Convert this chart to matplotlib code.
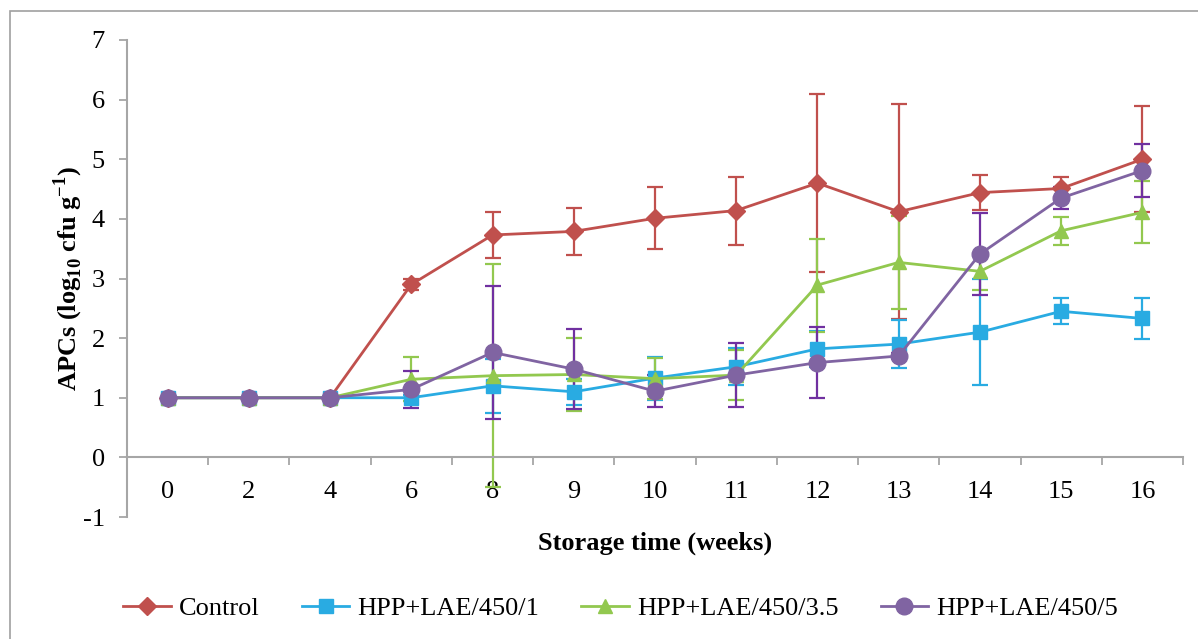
import matplotlib
matplotlib.use("Agg")
import matplotlib.pyplot as plt
from matplotlib.patches import Rectangle
import numpy as np

weeks = ["0", "2", "4", "6", "8", "9", "10", "11", "12", "13", "14", "15", "16"]

control = [1, 1, 1, 2.90, 3.73, 3.79, 4.01, 4.14, 4.60, 4.12, 4.44, 4.51, 5.00]
control_err = [0, 0, 0, 0.10, 0.38, 0.39, 0.52, 0.57, 1.49, 1.80, 0.29, 0.19, 0.89]

lae1 = [1, 1, 1, 1.00, 1.20, 1.10, 1.33, 1.52, 1.82, 1.90, 2.10, 2.45, 2.33]
lae1_err = [0, 0, 0, 0.05, 0.45, 0.22, 0.36, 0.31, 0.30, 0.40, 0.89, 0.22, 0.34]

lae35 = [1, 1, 1, 1.31, 1.37, 1.39, 1.32, 1.38, 2.89, 3.27, 3.12, 3.80, 4.11]
lae35_err = [0, 0, 0, 0.37, 1.87, 0.61, 0.34, 0.42, 0.78, 0.78, 0.31, 0.23, 0.52]

lae5 = [1, 1, 1, 1.14, 1.76, 1.48, 1.11, 1.38, 1.59, 1.70, 3.41, 4.35, 4.81]
lae5_err = [0, 0, 0, 0.31, 1.12, 0.67, 0.27, 0.53, 0.59, 0.05, 0.69, 0.18, 0.45]

labels = ["Control", "HPP+LAE/450/1", "HPP+LAE/450/3.5", "HPP+LAE/450/5"]

plt.rcParams['font.family'] = ['Liberation Serif', 'DejaVu Serif']
plt.rcParams['mathtext.fontset'] = 'custom'
plt.rcParams['mathtext.rm'] = 'Liberation Serif'
plt.rcParams['mathtext.bf'] = 'Liberation Serif:bold'

fig = plt.figure(figsize=(11.98, 6.39), dpi=100)
ax = fig.add_axes([127 / 1198, 1 - 517 / 639, (1183 - 127) / 1198, (517 - 40) / 639])

# frame around the whole figure
fig.patches.append(Rectangle((10 / 1198, -0.1), 1.2, 1 - 11 / 639 + 0.1,
                             transform=fig.transFigure, fill=False,
                             edgecolor='#A0A0A0', linewidth=1.2))

x = np.arange(len(weeks))
series = [
    (control, control_err, '#C0504D', '#C0504D', 'D', 9),
    (lae1, lae1_err, '#29ABE2', '#29ABE2', 's', 10),
    (lae35, lae35_err, '#92C84F', '#92C84F', '^', 10),
    (lae5, lae5_err, '#8064A2', '#7030A0', 'o', 12),
]
handles = []
for (vals, err, col, ecol, mk, ms), lab in zip(series, labels):
    h = ax.errorbar(x, vals, yerr=err, color=col, ecolor=ecol, marker=mk,
                    markersize=ms, linewidth=2, elinewidth=1.6, capsize=6,
                    capthick=1.6, label=lab)
    handles.append(h[0])

ax.set_xlim(-0.5, len(weeks) - 0.5)
ax.set_ylim(-1, 7)
ax.set_yticks(range(-1, 8))
ax.set_yticklabels([str(v) for v in range(-1, 8)])
ax.set_xticks(x)
ax.set_xticklabels(weeks)
ax.set_xticks(np.arange(-0.5, len(weeks), 1), minor=True)

for s in ['top', 'right']:
    ax.spines[s].set_visible(False)
ax.spines['bottom'].set_position(('data', 0))
for s in ['left', 'bottom']:
    ax.spines[s].set_color('#A6A6A6')
    ax.spines[s].set_linewidth(1.5)

ax.tick_params(axis='y', direction='out', length=6, width=1.3, color='#A6A6A6',
               labelsize=19, pad=10)
ax.tick_params(axis='x', which='major', length=0, labelsize=19, pad=17)
ax.tick_params(axis='x', which='minor', direction='out', length=6, width=1.3,
               color='#A6A6A6')

ax.set_xlabel("Storage time (weeks)", fontsize=19, fontweight='bold')
ax.xaxis.set_label_coords(0.5, -0.03)
ax.set_ylabel(r"APCs (log$_{\mathbf{10}}$ cfu g$^{\mathbf{-1}}$)", fontsize=19,
              fontweight='bold')
ax.yaxis.set_label_coords(-0.04, 0.5)

fig.legend(handles=handles, labels=labels, loc='center', ncol=4,
           bbox_to_anchor=(0.518, 1 - 608 / 639), frameon=False, fontsize=19,
           handlelength=1.8, columnspacing=1.6, handletextpad=0.3)

fig.savefig("out.png", dpi=100)
